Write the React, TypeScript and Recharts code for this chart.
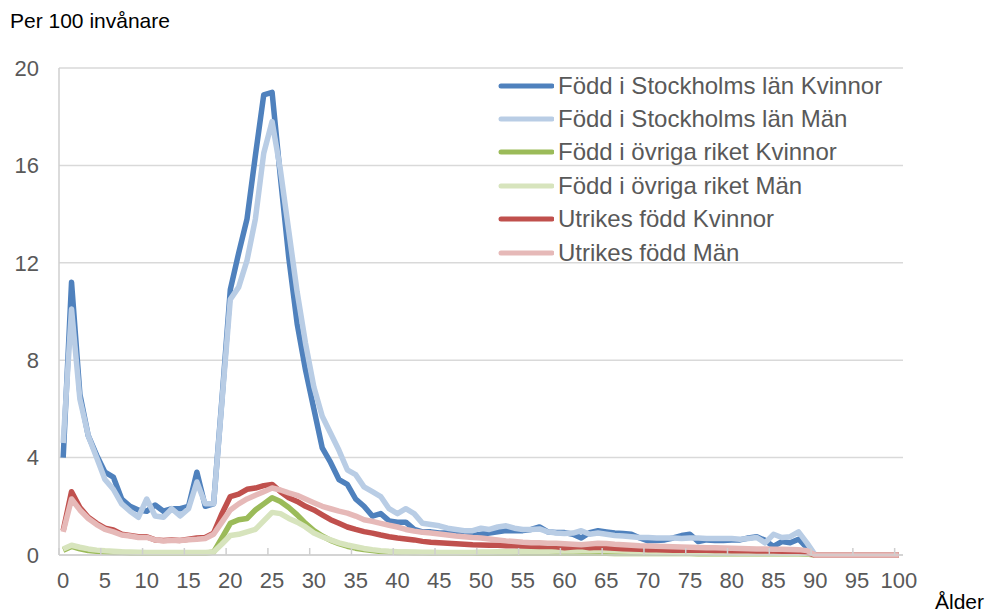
import { LineChart, Line, XAxis, YAxis, CartesianGrid, Legend } from 'recharts';

// ålder 0–100
const AGES = Array.from({ length: 101 }, (_, i) => i);
const AGE_TICKS = [0, 5, 10, 15, 20, 25, 30, 35, 40, 45, 50, 55, 60, 65, 70, 75, 80, 85, 90, 95, 100];
const VALUE_TICKS = [0, 4, 8, 12, 16, 20];

const stockholmKvinnor = [
  4.0, 11.2, 6.6, 4.9, 4.1, 3.4, 3.2, 2.3, 2.0, 1.85,
  1.8, 2.05, 1.8, 1.9, 1.9, 2.0, 3.4, 2.0, 2.1, 6.4,
  10.9, 12.4, 13.8, 16.4, 18.9, 19.0, 15.5, 12.2, 9.5, 7.6,
  6.0, 4.4, 3.8, 3.1, 2.9, 2.3, 2.0, 1.6, 1.7, 1.4,
  1.35, 1.35, 1.05, 0.95, 0.95, 0.9, 0.9, 0.9, 0.85, 0.8,
  0.85, 0.9, 0.95, 1.0, 1.0, 1.0, 1.05, 1.15, 0.95, 0.92,
  0.92, 0.85, 0.7, 0.92, 1.0, 0.95, 0.9, 0.88, 0.85, 0.7,
  0.58, 0.6, 0.62, 0.7, 0.8, 0.85, 0.55, 0.62, 0.6, 0.6,
  0.62, 0.62, 0.7, 0.75, 0.6, 0.35, 0.55, 0.5, 0.65, 0.3,
  0, 0, 0, 0, 0, 0, 0, 0, 0, 0, 0,
];

const stockholmMan = [
  4.6, 10.1, 6.4, 4.9, 4.0, 3.1, 2.7, 2.1, 1.8, 1.55,
  2.3, 1.6, 1.55, 1.9, 1.6, 1.9, 3.0, 2.1, 2.1, 6.3,
  10.5, 11.0, 12.1, 13.8, 16.5, 17.8, 15.8, 13.3, 10.8, 8.7,
  6.9, 5.7, 5.0, 4.3, 3.5, 3.3, 2.8, 2.6, 2.4, 1.9,
  1.7, 1.9, 1.7, 1.3, 1.25, 1.2, 1.1, 1.05, 1.0, 1.0,
  1.1, 1.05, 1.15, 1.2, 1.1, 1.05, 1.05, 1.07, 0.95, 0.9,
  0.88, 0.9, 1.0, 0.85, 0.9, 0.85, 0.8, 0.78, 0.75, 0.72,
  0.72, 0.7, 0.7, 0.7, 0.68, 0.7, 0.7, 0.68, 0.68, 0.68,
  0.68, 0.65, 0.68, 0.72, 0.5, 0.85, 0.72, 0.75, 0.95, 0.5,
  0, 0, 0, 0, 0, 0, 0, 0, 0, 0, 0,
];

const ovrigaKvinnor = [
  0.2, 0.35, 0.25, 0.18, 0.15, 0.12, 0.1, 0.1, 0.08, 0.08,
  0.07, 0.07, 0.07, 0.07, 0.07, 0.07, 0.07, 0.07, 0.12, 0.7,
  1.3, 1.45, 1.5, 1.85, 2.1, 2.35, 2.2, 1.95, 1.65, 1.3,
  1.0, 0.78, 0.6, 0.47, 0.36, 0.28, 0.22, 0.18, 0.14, 0.12,
  0.1, 0.1, 0.09, 0.09, 0.08, 0.08, 0.08, 0.08, 0.07, 0.07,
  0.07, 0.07, 0.07, 0.07, 0.07, 0.07, 0.07, 0.07, 0.07, 0.07,
  0.07, 0.07, 0.07, 0.07, 0.07, 0.07, 0.06, 0.06, 0.06, 0.06,
  0.06, 0.06, 0.06, 0.06, 0.06, 0.06, 0.05, 0.05, 0.05, 0.05,
  0.05, 0.05, 0.05, 0.05, 0.05, 0.05, 0.05, 0.05, 0.05, 0.04,
  0, 0, 0, 0, 0, 0, 0, 0, 0, 0, 0,
];

const ovrigaMan = [
  0.25, 0.4, 0.32, 0.25, 0.2, 0.17, 0.15, 0.13, 0.12, 0.11,
  0.1, 0.1, 0.1, 0.1, 0.1, 0.1, 0.1, 0.1, 0.12, 0.45,
  0.8, 0.85, 0.95, 1.05, 1.4, 1.75, 1.7, 1.5, 1.35, 1.15,
  0.9, 0.75, 0.62, 0.5, 0.41, 0.34, 0.27, 0.22, 0.18, 0.15,
  0.13, 0.12, 0.12, 0.11, 0.11, 0.1, 0.1, 0.1, 0.1, 0.1,
  0.12, 0.12, 0.13, 0.13, 0.14, 0.15, 0.15, 0.15, 0.15, 0.16,
  0.16, 0.16, 0.17, 0.17, 0.18, 0.18, 0.17, 0.16, 0.15, 0.14,
  0.13, 0.12, 0.12, 0.11, 0.1, 0.1, 0.1, 0.1, 0.09, 0.09,
  0.09, 0.08, 0.08, 0.08, 0.08, 0.08, 0.07, 0.07, 0.07, 0.06,
  0, 0, 0, 0, 0, 0, 0, 0, 0, 0, 0,
];

const utrikesKvinnor = [
  1.0, 2.6, 1.95, 1.55, 1.3, 1.1, 1.03, 0.85, 0.8, 0.75,
  0.75, 0.62, 0.6, 0.62, 0.6, 0.65, 0.7, 0.72, 0.9, 1.7,
  2.4, 2.5, 2.7, 2.75, 2.85, 2.9, 2.6, 2.35, 2.2, 2.0,
  1.85, 1.65, 1.45, 1.3, 1.15, 1.05, 0.96, 0.9, 0.82, 0.75,
  0.7, 0.66, 0.62, 0.56, 0.52, 0.5, 0.48, 0.46, 0.44, 0.42,
  0.41, 0.4, 0.4, 0.38, 0.38, 0.37, 0.36, 0.35, 0.36, 0.34,
  0.3, 0.33, 0.35, 0.3, 0.32, 0.3, 0.28, 0.26, 0.25, 0.24,
  0.22, 0.22, 0.21, 0.2, 0.2, 0.2, 0.19, 0.19, 0.18, 0.18,
  0.17, 0.17, 0.17, 0.16, 0.16, 0.16, 0.15, 0.15, 0.15, 0.1,
  0, 0, 0, 0, 0, 0, 0, 0, 0, 0, 0,
];

const utrikesMan = [
  0.95, 2.3, 1.85, 1.5, 1.25, 1.05, 0.95, 0.82, 0.78, 0.72,
  0.72, 0.62, 0.58, 0.6, 0.6, 0.63, 0.65, 0.68, 0.85, 1.35,
  1.85, 2.1, 2.3, 2.45, 2.6, 2.75, 2.67, 2.55, 2.45, 2.3,
  2.15, 2.0, 1.9, 1.8, 1.72, 1.6, 1.45, 1.38, 1.3, 1.22,
  1.15, 1.05, 0.98, 0.93, 0.9, 0.86, 0.82, 0.78, 0.75, 0.72,
  0.7, 0.66, 0.62, 0.58, 0.55, 0.52, 0.5, 0.5, 0.48, 0.48,
  0.46, 0.44, 0.42, 0.45, 0.48, 0.47, 0.44, 0.42, 0.4, 0.38,
  0.37, 0.36, 0.35, 0.34, 0.33, 0.32, 0.31, 0.3, 0.3, 0.29,
  0.28, 0.27, 0.26, 0.25, 0.25, 0.24, 0.24, 0.23, 0.22, 0.18,
  0, 0, 0, 0, 0, 0, 0, 0, 0, 0, 0,
];

const SERIES = [
  { key: 'sk', name: 'Född i Stockholms län Kvinnor', color: '#4F81BD', values: stockholmKvinnor },
  { key: 'sm', name: 'Född i Stockholms län Män', color: '#B9CDE5', values: stockholmMan },
  { key: 'ok', name: 'Född i övriga riket Kvinnor', color: '#9BBB59', values: ovrigaKvinnor },
  { key: 'om', name: 'Född i övriga riket Män', color: '#D7E4BD', values: ovrigaMan },
  { key: 'uk', name: 'Utrikes född Kvinnor', color: '#C0504D', values: utrikesKvinnor },
  { key: 'um', name: 'Utrikes född Män', color: '#E6B9B8', values: utrikesMan },
];

const data = AGES.map((age, i) => {
  const row: { [key: string]: number } = { age };
  SERIES.forEach((s) => {
    row[s.key] = s.values[i];
  });
  return row;
});

const FONT = '"Liberation Sans", Arial, sans-serif';
const TEXT = '#595959';
const GRID = '#D9D9D9';
const AXIS = '#CFCFCF';

const X_TICK_MARGIN = 17;
// half of one age step in pixels (plot width 844 / 101 ages / 2)
const HALF_STEP = 4.18;

function AgeTick(props: any) {
  const { x, y, payload } = props;
  const axisY = y - X_TICK_MARGIN;
  return (
    <g>
      <line x1={x - HALF_STEP} x2={x - HALF_STEP} y1={axisY} y2={axisY - 7} stroke={AXIS} strokeWidth={1.5} />
      <text x={x} y={y} dy="0.71em" textAnchor="middle" fontSize={22} fill={TEXT} fontFamily={FONT}>
        {payload.value}
      </text>
    </g>
  );
}

function renderLegend(props: any) {
  const { payload } = props;
  return (
    <div>
      {(payload || []).map((entry: any) => (
        <div key={entry.value} style={{ display: 'flex', alignItems: 'center', height: 33.4 }}>
          <svg width={56} height={10} style={{ display: 'block' }}>
            <line x1={3} x2={54} y1={5} y2={5} stroke={entry.color} strokeWidth={5} strokeLinecap="round" />
          </svg>
          <span style={{ marginLeft: 4, fontSize: 24, lineHeight: 1, color: TEXT, fontFamily: FONT, whiteSpace: 'nowrap' }}>
            {entry.value}
          </span>
        </div>
      ))}
    </div>
  );
}

export default function App() {
  return (
    <div style={{ position: 'absolute', left: 0, top: 0, width: 985, height: 612, background: '#fff', fontFamily: FONT }}>
      <div style={{ position: 'absolute', left: 10, top: 10, fontSize: 21, lineHeight: 1, color: '#000' }}>
        Per 100 invånare
      </div>
      <LineChart width={985} height={612} data={data} margin={{ top: 68, right: 82, bottom: 0, left: 0 }}>
        <CartesianGrid vertical={false} stroke={GRID} strokeWidth={1.5} />
        <XAxis
          dataKey="age"
          type="number"
          domain={[-0.5, 100.5]}
          ticks={AGE_TICKS}
          interval={0}
          height={57}
          tickSize={0}
          tickMargin={X_TICK_MARGIN}
          tick={<AgeTick />}
          axisLine={{ stroke: AXIS, strokeWidth: 1.5 }}
        />
        <YAxis
          domain={[0, 20]}
          ticks={VALUE_TICKS}
          width={59}
          tickLine={false}
          tickSize={0}
          tickMargin={20}
          axisLine={{ stroke: AXIS, strokeWidth: 1.5 }}
          tick={{ fill: TEXT, fontSize: 22, fontFamily: FONT }}
        />
        <Legend
          layout="vertical"
          align="center"
          verticalAlign="middle"
          content={renderLegend}
          wrapperStyle={{ top: 69, left: 498, width: 440, height: 205 }}
        />
        {SERIES.map((s) => (
          <Line
            key={s.key}
            type="linear"
            dataKey={s.key}
            name={s.name}
            stroke={s.color}
            strokeWidth={5.5}
            strokeLinejoin="round"
            dot={false}
            activeDot={false}
            isAnimationActive={false}
          />
        ))}
      </LineChart>
      <div style={{ position: 'absolute', left: 935, top: 591, fontSize: 21, lineHeight: 1, color: '#000' }}>
        Ålder
      </div>
    </div>
  );
}
